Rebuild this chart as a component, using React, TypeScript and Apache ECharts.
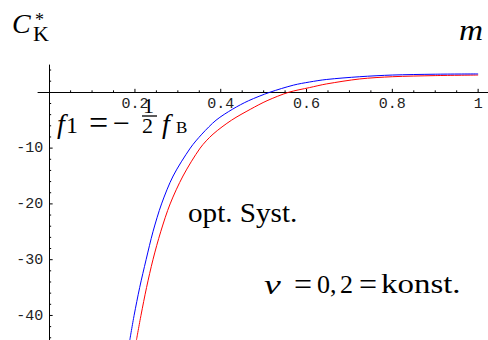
import React, { useEffect, useRef } from 'react';
import * as echarts from 'echarts';

// Blue curve: C*_K over m
const blueM = [0.188, 0.198, 0.211, 0.226, 0.242, 0.262, 0.289, 0.329, 0.356, 0.389, 0.428, 0.465, 0.514, 0.57, 0.607, 0.646, 0.724, 0.8, 0.9, 1.0];
const blueC = [-44.4, -40, -35, -30, -25, -20, -15, -10, -7.5, -5, -3, -1.5, 0, 1.3, 1.85, 2.3, 2.8, 3.1, 3.25, 3.3];

// Red curve: C*_K over m
const redM = [0.2035, 0.214, 0.227, 0.242, 0.26, 0.282, 0.312, 0.352, 0.382, 0.425, 0.47, 0.508, 0.558, 0.607, 0.646, 0.724, 0.8, 0.9, 1.0];
const redC = [-44.4, -40, -35, -30, -25, -20, -15, -10, -7.5, -5, -3, -1.5, 0, 0.85, 1.5, 2.4, 2.8, 3.0, 3.1];

// Axis ticks and labels
const xMajorTicks = [0.2, 0.4, 0.6, 0.8, 1];
const xTickLabels = ['0.2', '0.4', '0.6', '0.8', '1'];
const xMinorTicks = [0.05, 0.1, 0.15, 0.25, 0.3, 0.35, 0.45, 0.5, 0.55, 0.65, 0.7, 0.75, 0.85, 0.9, 0.95];
const yMajorTicks = [-40, -30, -20, -10];
const yTickLabels = ['-40', '-30', '-20', '-10'];
const yMinorTicks = [-44, -42, -38, -36, -34, -32, -28, -26, -24, -22, -18, -16, -14, -12, -8, -6, -4, -2, 2, 4];

const X_MIN = -0.026;
const X_MAX = 1.023;
const Y_MIN = -44.4;
const Y_MAX = 4.9;

const SERIF = '"Liberation Serif", "Times New Roman", serif';
const MONO = '"Liberation Mono", "Courier New", monospace';

type GlyphOpts = { italic?: boolean; sx?: number };

// Text piece positioned by its left edge and alphabetic baseline
function glyph(text: string, x: number, baseline: number, size: number, opts: GlyphOpts = {}) {
  return {
    type: 'text',
    x,
    y: baseline - 0.3375 * size,
    scaleX: opts.sx ?? 1,
    silent: true,
    style: {
      text,
      fontFamily: SERIF,
      fontSize: size,
      fontStyle: opts.italic ? 'italic' : 'normal',
      fill: '#000',
      align: 'left',
      verticalAlign: 'middle',
    },
  };
}

export default function App() {
  const ref = useRef<HTMLDivElement>(null);

  useEffect(() => {
    if (!ref.current) return;
    const chart = echarts.init(ref.current, undefined, { renderer: 'svg' });

    // [axis (0 = x, 1 = y), value, major flag, label index or -1]
    const tickData: number[][] = [
      ...xMajorTicks.map((v, i) => [0, v, 1, i]),
      ...xMinorTicks.map((v) => [0, v, 0, -1]),
      ...yMajorTicks.map((v, i) => [1, v, 1, i]),
      ...yMinorTicks.map((v) => [1, v, 0, -1]),
    ];

    const tickStyle = { stroke: '#000', lineWidth: 1 };
    const labelStyle = { fontFamily: MONO, fontSize: 15, fill: '#222' };

    const option: any = {
      animation: false,
      backgroundColor: '#fff',
      grid: { left: 38, right: 0, top: 65, bottom: 0, containLabel: false },
      xAxis: {
        type: 'value',
        min: X_MIN,
        max: X_MAX,
        axisLine: { onZero: true, lineStyle: { color: '#000', width: 1 } },
        axisTick: { show: false },
        splitLine: { show: false },
        axisLabel: { show: false },
      },
      yAxis: {
        type: 'value',
        min: Y_MIN,
        max: Y_MAX,
        axisLine: { onZero: true, lineStyle: { color: '#000', width: 1 } },
        axisTick: { show: false },
        splitLine: { show: false },
        axisLabel: { show: false },
      },
      series: [
        {
          // Inward ticks and tick labels of the axes crossing at the origin
          type: 'custom',
          silent: true,
          clip: false,
          data: tickData,
          encode: { x: 1, y: 1 },
          renderItem: (_p: any, api: any) => {
            const axis = api.value(0);
            const v = api.value(1);
            const major = api.value(2);
            const li = api.value(3);
            const len = major ? 3.5 : 2;
            const children: any[] = [];
            if (axis === 0) {
              const p = api.coord([v, 0]);
              children.push({ type: 'line', shape: { x1: p[0], y1: p[1], x2: p[0], y2: p[1] - len }, style: tickStyle });
              if (li >= 0) {
                children.push({
                  type: 'text',
                  x: p[0],
                  y: p[1] + 12,
                  style: { ...labelStyle, text: xTickLabels[li], align: 'center', verticalAlign: 'middle' },
                });
              }
            } else {
              const p = api.coord([0, v]);
              children.push({ type: 'line', shape: { x1: p[0], y1: p[1], x2: p[0] + len, y2: p[1] }, style: tickStyle });
              if (li >= 0) {
                children.push({
                  type: 'text',
                  x: p[0] - 6,
                  y: p[1] + 0.8,
                  style: { ...labelStyle, text: yTickLabels[li], align: 'right', verticalAlign: 'middle' },
                });
              }
            }
            return { type: 'group', children };
          },
        },
        {
          type: 'line',
          data: redM.map((m, i) => [m, redC[i]]),
          smooth: 0.3,
          showSymbol: false,
          lineStyle: { color: '#ff0000', width: 1 },
          silent: true,
        },
        {
          type: 'line',
          data: blueM.map((m, i) => [m, blueC[i]]),
          smooth: 0.3,
          showSymbol: false,
          lineStyle: { color: '#0000ff', width: 1 },
          silent: true,
        },
      ],
      graphic: [
        // C*_K
        glyph('C', 12, 33.3, 28, { italic: true }),
        glyph('*', 35, 26, 18),
        glyph('K', 33, 40.7, 22),
        // m
        glyph('m', 459, 40, 29, { italic: true, sx: 1.15 }),
        // f_1 = -1/2 f_B
        glyph('f', 57, 132.5, 28, { italic: true }),
        glyph('1', 66, 133, 24),
        glyph('=', 89, 133.6, 34),
        glyph('\u2212', 113, 132.5, 30),
        glyph('1', 143, 113.3, 22),
        { type: 'line', silent: true, shape: { x1: 142, y1: 116, x2: 157, y2: 116 }, style: { stroke: '#000', lineWidth: 1.3 } },
        glyph('2', 142, 133.3, 22),
        glyph('f', 162, 132.5, 28, { italic: true }),
        glyph('B', 176, 133.3, 17),
        // opt. Syst.
        glyph('opt. Syst.', 188, 221.7, 27, { sx: 1.08 }),
        // nu = 0,2 = konst.
        glyph('\u03bd', 264, 293.3, 28, { italic: true, sx: 1.35 }),
        glyph('=', 294, 295, 32),
        glyph('0,', 317, 293.3, 26),
        glyph('2', 340, 293.3, 26),
        glyph('=', 359, 295, 32),
        glyph('konst.', 381, 293.3, 27, { sx: 1.22 }),
      ],
    };

    chart.setOption(option);
    return () => chart.dispose();
  }, []);

  return (
    <div
      ref={ref}
      style={{ position: 'fixed', left: 0, top: 0, width: 488, height: 340, background: '#fff' }}
    />
  );
}
